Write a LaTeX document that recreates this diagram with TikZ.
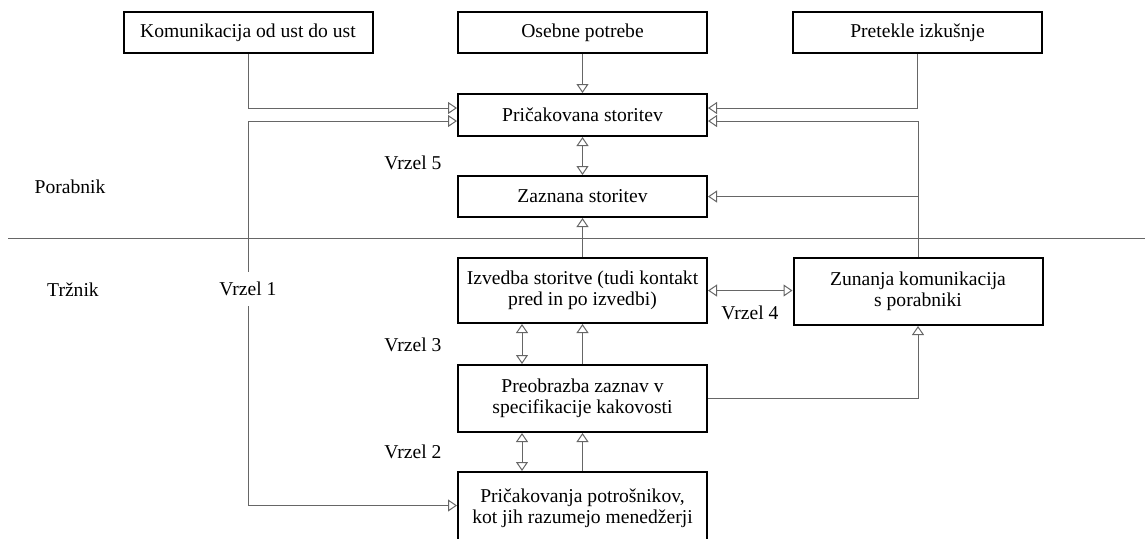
\documentclass[tikz,border=0pt]{standalone}
\usepackage{fontspec}
\setmainfont{Liberation Serif}
\usetikzlibrary{arrows.meta}

\tikzset{
    okvir/.style={draw=black, line width=1pt, align=center, minimum width=124.5pt, inner sep=1pt},
    vez/.style={draw=black!60, line width=0.5pt},
    konica/.style={-{Triangle[open, length=4.5pt, width=6pt]}},
    dvojna/.style={{Triangle[open, length=4.5pt, width=6pt]}-{Triangle[open, length=4.5pt, width=6pt]}},
}

\begin{document}
\begin{tikzpicture}[x=0.5pt, y=-0.5pt, font=\fontsize{9.8}{10.5}\selectfont]
        \useasboundingbox (0,0) rectangle (1145,538);

        % zgornja vrsta
        \node[okvir, minimum height=20.5pt] (ust) at (248,32.5) {Komunikacija od ust do ust};
        \node[okvir, minimum height=20.5pt] (potrebe) at (582.5,32.5) {Osebne potrebe};
        \node[okvir, minimum height=20.5pt] (izkusnje) at (917.5,32.5) {Pretekle izkušnje};

        % porabnik
        \node[okvir, minimum height=21pt] (pricakovana) at (582.5,115) {Pričakovana storitev};
        \node[okvir, minimum height=20.5pt] (zaznana) at (582.5,196.5) {Zaznana storitev};

        % trznik
        \node[okvir, minimum height=32.5pt] (izvedba) at (582.5,290.5) {Izvedba storitve (tudi kontakt\\pred in po izvedbi)};
        \node[okvir, minimum height=33.5pt] (preobrazba) at (582.5,398.5) {Preobrazba zaznav v\\specifikacije kakovosti};
        \node[okvir, minimum height=36pt] (menedzerji) at (582.5,508) {Pričakovanja potrošnikov,\\kot jih razumejo menedžerji};
        \node[okvir, minimum height=33.5pt] (zunanja) at (918,291.5) {Zunanja komunikacija\\s porabniki};

        % oznake
        \node (porabnik) at (70,187) {Porabnik};
        \node (trznik) at (73,290) {Tržnik};
        \node[minimum height=17pt] (vrzel1) at (248,289) {Vrzel 1};
        \node (vrzel2) at (413,452) {Vrzel 2};
        \node (vrzel3) at (413,345) {Vrzel 3};
        \node (vrzel4) at (750,313) {Vrzel 4};
        \node (vrzel5) at (413,163) {Vrzel 5};

        \coordinate (meja levo) at (8,238);
        \coordinate (meja desno) at (1145,238);
        \draw[vez] (meja levo) -- (meja desno);

        % povezave
        \draw[vez, konica] (ust.south) |- ([yshift=3.5pt]pricakovana.west);
        \draw[vez, konica] (vrzel1.north) |- ([yshift=-3pt]pricakovana.west);
        \draw[vez, konica] (vrzel1.south) |- ([yshift=1.25pt]menedzerji.west);
        \draw[vez, konica] (izkusnje.south) |- ([yshift=3.5pt]pricakovana.east);
        \draw[vez, konica] (zunanja.north) |- ([yshift=-3pt]pricakovana.east);
        \draw[vez, konica] (zunanja.north) |- (zaznana.east);
        \draw[vez, konica] (potrebe) -- (pricakovana);
        \draw[vez, dvojna] (pricakovana) -- (zaznana);
        \draw[vez, konica] (izvedba) -- (zaznana);
        \draw[vez, dvojna] ([xshift=-30.25pt]izvedba.south) -- ([xshift=-30.25pt]preobrazba.north);
        \draw[vez, konica] (preobrazba) -- (izvedba);
        \draw[vez, dvojna] ([xshift=-30.25pt]preobrazba.south) -- ([xshift=-30.25pt]menedzerji.north);
        \draw[vez, konica] (menedzerji) -- (preobrazba);
        \draw[vez, dvojna] (izvedba.east) -- (zunanja.west |- izvedba.east);
        \draw[vez, konica] (preobrazba.east) -| (zunanja.south);
    \end{tikzpicture}
\end{document}
